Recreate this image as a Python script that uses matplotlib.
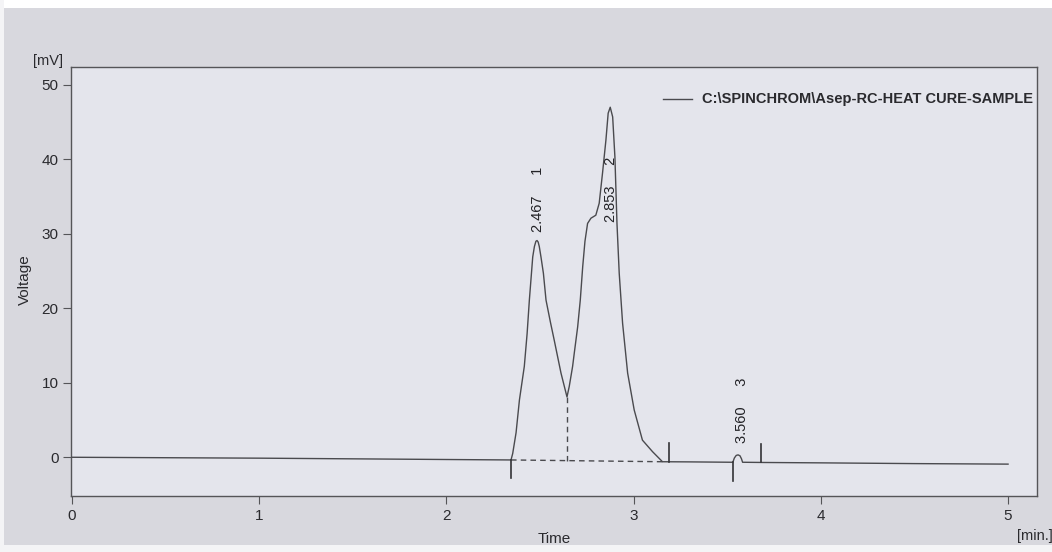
import matplotlib
matplotlib.use("Agg")
import matplotlib.pyplot as plt
from matplotlib.patches import Rectangle

# ---- data ----
time_min = [0.0, 1.0, 2.0, 2.345, 2.354, 2.372, 2.39, 2.416, 2.431, 2.443, 2.461, 2.47,
            2.478, 2.484, 2.49, 2.496, 2.505, 2.518, 2.532, 2.555, 2.576, 2.594, 2.612,
            2.63, 2.644, 2.656, 2.674, 2.683, 2.701, 2.715, 2.728, 2.740,
            2.754, 2.772, 2.798, 2.816, 2.834, 2.852, 2.864, 2.875, 2.888, 2.900, 2.911,
            2.923, 2.941, 2.968, 3.003, 3.047, 3.101, 3.154, 3.3, 3.53, 3.538, 3.548,
            3.558, 3.568, 3.576, 3.582, 3.7, 4.0, 4.5, 5.0]
voltage_mv = [0.0, -0.12, -0.3, -0.36, 0.5, 3.3, 7.7, 12.2, 16.6, 21.1, 26.9, 28.3,
              29.0, 29.1, 28.9, 28.3, 26.9, 24.7, 21.1, 18.2, 15.7, 13.5, 11.3,
              9.5, 8.1, 9.5, 12.2, 14.0, 17.5, 21.1, 25.6, 29.0,
              31.4, 32.1, 32.5, 34.1, 38.2, 42.6, 46.2, 47.0, 45.7, 40.3, 31.4,
              24.7, 18.0, 11.3, 6.35, 2.3, 0.75, -0.6, -0.62, -0.67, -0.1, 0.25,
              0.32, 0.2, -0.2, -0.67, -0.7, -0.75, -0.85, -0.92]

peak_numbers = ["1", "2", "3"]
peak_rt_labels = ["2.467", "2.853", "3.560"]
label_time = [2.49, 2.878, 3.577]
label_base = [30.2, 31.6, 1.9]

# integration markers
base_start_t = [2.345, 3.53]
base_start_v = [-0.36, -0.67]
base_end_t = [3.188, 3.682]
base_end_v = [-0.6, -0.67]
drop_t = 2.644
drop_v_top = 8.1
drop_v_bottom = -0.45
dashed_base_t = [2.345, 3.154]
dashed_base_v = [-0.36, -0.6]

x_ticks = [0, 1, 2, 3, 4, 5]
y_ticks = [0, 10, 20, 30, 40, 50]
legend_text = "C:\\SPINCHROM\\Asep-RC-HEAT CURE-SAMPLE"

plt.rcParams['font.family'] = ['Liberation Sans', 'DejaVu Sans']

W, H = 1052, 552
fig = plt.figure(figsize=(W / 100, H / 100), dpi=100, facecolor='#d8d8de')
# white scan borders
fig.patches.append(Rectangle((0, 1 - 8 / H), 1, 8 / H, transform=fig.transFigure,
                             facecolor='white', edgecolor='none', zorder=-5))
fig.patches.append(Rectangle((0, 0), 1, 7 / H, transform=fig.transFigure,
                             facecolor='#f4f4f6', edgecolor='none', zorder=-5))
fig.patches.append(Rectangle((0, 0), 4 / W, 1, transform=fig.transFigure,
                             facecolor='#f4f4f6', edgecolor='none', zorder=-5))

left, right, top, bottom = 71, 1037, 67, 496
ax = fig.add_axes([left / W, 1 - bottom / H, (right - left) / W, (bottom - top) / H])
ax.set_facecolor('#e4e5ec')

line_col = '#4a4a4e'
ax.plot(time_min, voltage_mv, color=line_col, lw=1.0, zorder=3)

# integration baseline & markers
ax.plot(dashed_base_t, dashed_base_v, color=line_col, lw=1.0, ls=(0, (4, 3)), zorder=2)
ax.plot([drop_t, drop_t], [drop_v_bottom, drop_v_top], color=line_col, lw=1.0,
        ls=(0, (4, 3)), zorder=2)
for t, v in zip(base_start_t, base_start_v):
    ax.plot([t, t], [v, v - 2.45], color='#333336', lw=1.2, zorder=3)
for t, v in zip(base_end_t, base_end_v):
    ax.plot([t, t], [v, v + 2.45], color='#333336', lw=1.2, zorder=3)

# peak labels
for num, rt, t, yb in zip(peak_numbers, peak_rt_labels, label_time, label_base):
    ax.text(t, yb, rt + "     " + num, rotation=90, ha='center', va='bottom',
            fontsize=10.5, color='#222226', zorder=4)

ax.set_xlim(-1 / 187.6, (right - 70) / 187.6)
ax.set_ylim(-5.2, 52.4)
ax.set_xticks(x_ticks)
ax.set_yticks(y_ticks)
ax.set_xticklabels([str(v) for v in x_ticks])
ax.set_yticklabels([str(v) for v in y_ticks])
ax.tick_params(direction='out', length=6, width=0.8, color='#555558', labelsize=11,
               labelcolor='#2a2a2e', pad=3)
for s in ax.spines.values():
    s.set_color('#555558')
    s.set_linewidth(1.0)

# legend
fig.lines.append(plt.Line2D([663 / W, 692 / W], [1 - 99 / H, 1 - 99 / H],
                            transform=fig.transFigure, color=line_col, lw=1.0))
fig.text(702 / W, 1 - 99 / H, legend_text, ha='left', va='center', fontsize=10.5,
         fontweight='bold', color='#2a2a2e')

# axis labels
fig.text(25 / W, 1 - 280 / H, "Voltage", rotation=90, ha='center', va='center',
         fontsize=11, color='#2a2a2e')
fig.text(554 / W, 1 - 539 / H, "Time", ha='center', va='center', fontsize=11,
         color='#2a2a2e')
fig.text(48 / W, 1 - 61 / H, "[mV]", ha='center', va='center', fontsize=10.5,
         color='#2a2a2e')
fig.text(1017 / W, 1 - 536 / H, "[min.]", ha='left', va='center', fontsize=10.5,
         color='#2a2a2e')

fig.savefig("out.png", dpi=100, facecolor=fig.get_facecolor())
